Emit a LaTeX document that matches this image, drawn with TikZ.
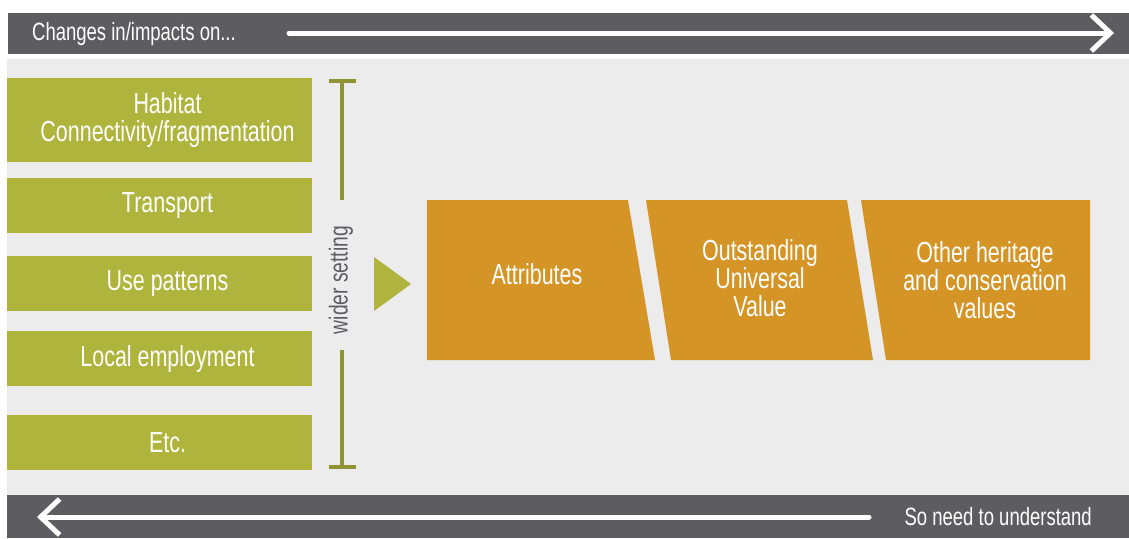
\documentclass[tikz,border=0pt]{standalone}
\usepackage{fontspec}
\setmainfont{Liberation Sans}[FakeStretch=0.74]
\usepackage{tikz}
\usetikzlibrary{arrows.meta}
\definecolor{bardark}{HTML}{5D5C61}
\definecolor{panelgray}{HTML}{ECECEC}
\definecolor{olivebox}{HTML}{AFB43D}
\definecolor{olivedark}{HTML}{8E9434}
\definecolor{orangebox}{HTML}{D59426}
\tikzset{factor/.style={fill=olivebox, minimum width=305pt,
   minimum height=55pt, inner sep=0pt},
 factortext/.style={text=white, align=center, xshift=8pt,
   font=\fontsize{29}{28}\selectfont},
 valuetext/.style={text=white, align=center, font=\fontsize{29}{28}\selectfont},
 bartext/.style={text=white, font=\fontsize{25}{25}\selectfont},
 bararrow/.style={draw=white, line width=5pt, line cap=round,
   -{Straight Barb[length=19pt,width=36pt]}},
 bracket/.style={draw=olivedark, line width=4pt},
 }

\begin{document}
\begin{tikzpicture}[x=1pt,y=-1pt]
        \useasboundingbox[fill=white] (0,0) rectangle (1129,538);
        % bars and panel
        \fill[bardark] (8,13) rectangle (1129,54);
        \fill[panelgray] (7,59) rectangle (1129,495);
        \fill[bardark] (7,495) rectangle (1129,538);
        % top bar
        \node[bartext, anchor=west, inner sep=0pt] (changes) at (32,34) {Changes in/impacts on...};
        \coordinate (topstart) at (289,33);
        \coordinate (topend) at (1114,33);
        \draw[bararrow] (topstart) -- (topend);
        % bottom bar
        \node[bartext, anchor=east, inner sep=0pt] (understand) at (1092,517) {So need to understand};
        \coordinate (botstart) at (869,517);
        \coordinate (botend) at (37,517);
        \draw[bararrow] (botstart) -- (botend);
        % factors
        \node[factor, minimum height=84pt, label={[factortext]center:Habitat\\Connectivity/fragmentation}] (habitat) at (159.5,120) {};
        \node[factor, label={[factortext]center:Transport}] (transport) at (159.5,205.5) {};
        \node[factor, label={[factortext]center:Use patterns}] (use) at (159.5,283.5) {};
        \node[factor, label={[factortext]center:Local employment}] (employment) at (159.5,358.5) {};
        \node[factor, label={[factortext]center:Etc.}] (etc) at (159.5,442.5) {};
        % wider setting bracket
        \node[rotate=90, text=bardark, font=\fontsize{26}{26}\selectfont, inner sep=0pt] (wider) at (341,280) {wider setting};
        \draw[bracket] (329,81) -- (356,81);
        \draw[bracket] (342,81) -- (342,200);
        \draw[bracket] (342,350) -- (342,467);
        \draw[bracket] (329,467) -- (356,467);
        \fill[olivebox] (374,257) -- (411,284) -- (374,311) -- cycle;
        % values
        \fill[orangebox] (427,200) -- (628,200) -- (655,360) -- (427,360) -- cycle;
        \fill[orangebox] (646,200) -- (847,200) -- (873,360) -- (671,360) -- cycle;
        \fill[orangebox] (861,200) -- (1090,200) -- (1090,360) -- (886,360) -- cycle;
        \node[valuetext] (attributes) at (537,274) {Attributes};
        \node[valuetext] (ouv) at (760,278) {Outstanding\\Universal\\Value};
        \node[valuetext] (other) at (985,280) {Other heritage\\and conservation\\values};
    \end{tikzpicture}
\end{document}
